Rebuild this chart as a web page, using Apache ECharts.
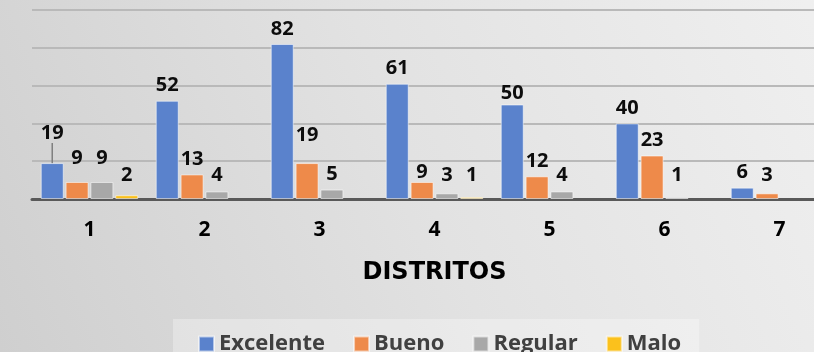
<!DOCTYPE html>
<html><head><meta charset="utf-8">
<script src="https://cdn.jsdelivr.net/npm/echarts@6/dist/echarts.min.js"></script>
<style>html,body{margin:0;padding:0;overflow:hidden;width:814px;height:352px;}#c{width:840px;height:352px;}</style>
</head><body><div id="c"></div>
<script>
const categories = ['1','2','3','4','5','6','7'];
const excelente = [19, 52, 82, 61, 50, 40, 6];
const bueno     = [9, 13, 19, 9, 12, 23, 3];
const regular   = [9, 4, 5, 3, 4, 1, null];
const malo      = [2, null, null, 1, null, null, null];
const seriesNames = ['Excelente','Bueno','Regular','Malo'];
const colors = ['#5a82cc','#ee8a4a','#a8a8a8','#fbc11c'];

// label nudges (series index -> {dataIndex: lift in px}) to mimic Excel label placement
const labelLift = {0:{0:15, 4:-4}, 1:{0:9, 2:13, 3:-5}, 2:{0:9}};

const chart = echarts.init(document.getElementById('c'));
const FONT = 'Open Sans';

function makeSeries(name, vals, si) {
  return {
    name: name, type: 'bar', barWidth: 23, barGap: '8%',
    data: vals.map((v, i) => (si === 0 && i === 0) ? {value: v, labelLine: {show: true, lineStyle: {color: '#7f7f7f', width: 1.5}}} : v),
    itemStyle: {color: colors[si], borderColor: 'rgba(255,255,255,0.55)', borderWidth: 1},
    label: {show: true, position: 'top', distance: 5, color: '#0d0d0d', fontFamily: FONT, fontWeight: 'bold', fontSize: 20},
    labelLayout: function (p) {
      const base = p.rect.y + p.rect.height;
      const cy = p.labelRect.y + p.labelRect.height / 2;
      let dy = 0;
      const limit = base - 24;
      if (cy > limit) dy = limit - cy;
      const lift = (labelLift[si] && labelLift[si][p.dataIndex]) || 0;
      return {dy: dy - lift};
    }
  };
}

chart.setOption({
  backgroundColor: {type: 'linear', x: 1, y: 0, x2: 0, y2: 1, colorStops: [
    {offset: 0, color: '#f0f0f0'}, {offset: 0.5, color: '#e2e2e2'}, {offset: 1, color: '#cfcfcf'}]},
  animation: false,
  color: colors,
  grid: {left: 32, top: 10, width: 805, height: 189, containLabel: false},
  xAxis: {
    type: 'category', data: categories,
    axisLine: {show: true, lineStyle: {color: '#595959', width: 3}},
    axisTick: {show: false},
    axisLabel: {color: '#000', fontFamily: FONT, fontWeight: 'bold', fontSize: 21, margin: 21},
    name: 'DISTRITOS', nameLocation: 'middle', nameGap: 62,
    nameTextStyle: {color: '#000', fontFamily: 'DejaVu Sans', fontWeight: 'bold', fontSize: 24}
  },
  yAxis: {
    type: 'value', min: 0, max: 100, interval: 20,
    axisLabel: {show: false}, axisLine: {show: false}, axisTick: {show: false},
    splitLine: {lineStyle: {color: '#b9b9b9', width: 2}}
  },
  legend: {
    left: 173, top: 319, itemWidth: 15, itemHeight: 15, itemGap: 28,
    icon: 'rect', padding: [14, 18, 12, 25],
    backgroundColor: 'rgba(255,255,255,0.3)',
    textStyle: {color: '#404040', fontFamily: FONT, fontWeight: 'bold', fontSize: 22}
  },
  series: [
    makeSeries(seriesNames[0], excelente, 0),
    makeSeries(seriesNames[1], bueno, 1),
    makeSeries(seriesNames[2], regular, 2),
    makeSeries(seriesNames[3], malo, 3)
  ]
});
</script></body></html>
